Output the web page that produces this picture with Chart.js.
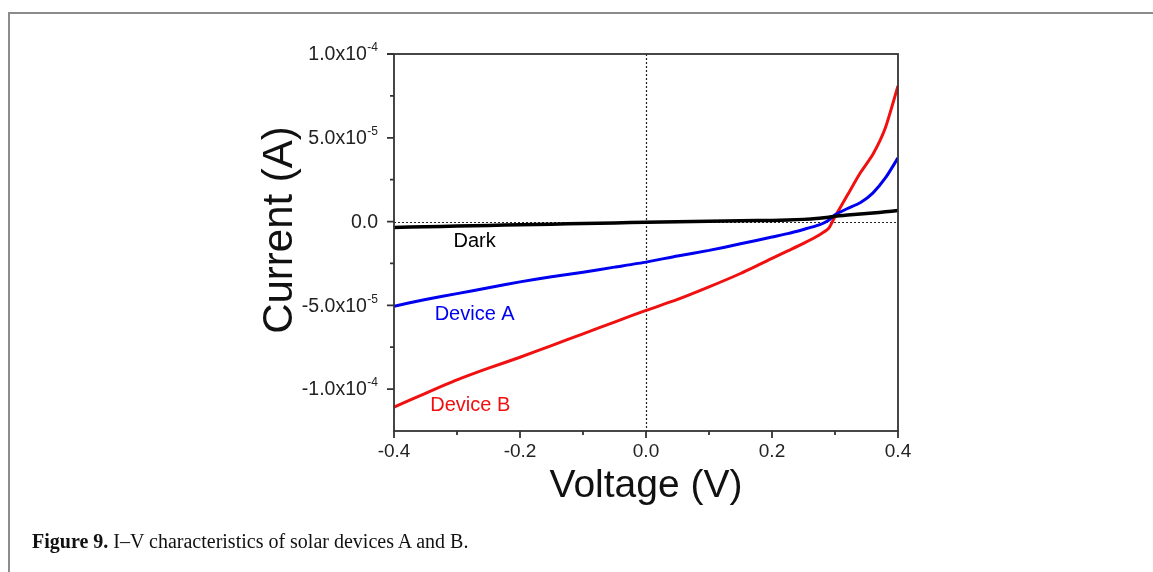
<!DOCTYPE html>
<html>
<head>
<meta charset="utf-8">
<script src="https://cdn.jsdelivr.net/npm/chart.js@4.4.0/dist/chart.umd.min.js"></script>
<style>
  html, body { margin: 0; padding: 0; background: #fff; }
  body { width: 1153px; height: 572px; position: relative; overflow: hidden; }
  #frame { position: absolute; left: 8px; top: 12px; right: -10px; bottom: -10px;
           border-left: 2px solid #8c8c8c; border-top: 2px solid #8c8c8c; }
  #wrap { position: absolute; left: 0; top: 0; width: 1153px; height: 572px; }
  #caption { position: absolute; left: 32px; top: 530px; font-family: "Liberation Serif", "Times New Roman", serif;
             font-size: 20px; color: #111; }
</style>
</head>
<body>
<div id="frame"></div>
<div id="wrap"><canvas id="chartIV"></canvas></div>
<div id="caption"><b>Figure 9.</b> I–V characteristics of solar devices A and B.</div>
<script>
// datos (V en voltios, I en amperios)
const voltage = [-0.4, -0.35, -0.3, -0.25, -0.2, -0.15, -0.1, -0.05, 0, 0.05, 0.1, 0.15, 0.2,
                 0.225, 0.25, 0.275, 0.29, 0.3, 0.32, 0.34, 0.36, 0.38, 0.4];
const darkCurrent = [-3.5e-6, -3.1e-6, -2.7e-6, -2.3e-6, -1.9e-6, -1.55e-6, -1.2e-6, -0.8e-6, -0.4e-6, -0.1e-6, 0.2e-6, 0.45e-6, 0.7e-6,
                     0.9e-6, 1.3e-6, 2.0e-6, 2.6e-6, 3.2e-6, 3.9e-6, 4.5e-6, 5.1e-6, 5.8e-6, 6.6e-6];
const deviceA = [-5.05e-5, -4.65e-5, -4.3e-5, -3.95e-5, -3.6e-5, -3.3e-5, -3.02e-5, -2.72e-5, -2.42e-5, -2.05e-5, -1.72e-5, -1.33e-5, -0.92e-5,
                 -0.72e-5, -0.47e-5, -0.2e-5, 0.08e-5, 0.4e-5, 0.78e-5, 1.12e-5, 1.7e-5, 2.6e-5, 3.8e-5];
const deviceB = [-11.08e-5, -10.25e-5, -9.45e-5, -8.75e-5, -8.1e-5, -7.4e-5, -6.7e-5, -6.0e-5, -5.3e-5, -4.65e-5, -3.9e-5, -3.1e-5, -2.2e-5,
                 -1.75e-5, -1.3e-5, -0.8e-5, -0.4e-5, 0.3e-5, 1.6e-5, 2.9e-5, 4.0e-5, 5.6e-5, 8.1e-5];

const seriesNames = ["Dark", "Device A", "Device B"];

const xTickValues = [-0.4, -0.3, -0.2, -0.1, 0, 0.1, 0.2, 0.3, 0.4];
const xTickLabels = ["-0.4", "", "-0.2", "", "0.0", "", "0.2", "", "0.4"];
const yTickValues = [-1.0e-4, -7.5e-5, -5.0e-5, -2.5e-5, 0, 2.5e-5, 5.0e-5, 7.5e-5, 1.0e-4];
const yTickMantissa = ["-1.0x10", "", "-5.0x10", "", "0.0", "", "5.0x10", "", "1.0x10"];
const yTickExponent = ["-4", "", "-5", "", "", "", "-5", "", "-4"];

// donde va cada etiqueta de serie (en coordenadas de datos)
const labelAnchors = [
    { x: -0.272, y: -1.2e-5 },
    { x: -0.272, y: -5.55e-5 },
    { x: -0.279, y: -10.95e-5 }
];

const FONT = '"Liberation Sans", Arial, sans-serif';
const AXIS_COLOR = "#333";

// ===========================
// CAJA, TICKS, ETIQUETAS
// ===========================
const ivDecor = {
    id: "ivDecor",
    beforeDatasetsDraw(chart) {
        const { ctx, chartArea: a, scales: { x, y } } = chart;
        ctx.save();
        ctx.strokeStyle = "#222";
        ctx.lineWidth = 1.2;
        ctx.setLineDash([2, 2]);
        const x0 = Math.round(x.getPixelForValue(0)) + 0.5;
        const y0 = Math.round(y.getPixelForValue(0)) + 0.5;
        ctx.beginPath();
        ctx.moveTo(x0, a.top); ctx.lineTo(x0, a.bottom);
        ctx.moveTo(a.left, y0); ctx.lineTo(a.right, y0);
        ctx.stroke();
        ctx.restore();
    },
    afterDatasetsDraw(chart) {
        const { ctx, chartArea: a, scales: { x, y } } = chart;
        ctx.save();
        ctx.strokeStyle = AXIS_COLOR;
        ctx.lineWidth = 1.8;
        ctx.strokeRect(a.left, a.top, a.right - a.left, a.bottom - a.top);

        // ticks hacia afuera
        ctx.beginPath();
        xTickValues.forEach((v, i) => {
            const px = x.getPixelForValue(v);
            const len = xTickLabels[i] ? 7 : 4;
            ctx.moveTo(px, a.bottom); ctx.lineTo(px, a.bottom + len);
        });
        yTickValues.forEach((v, i) => {
            const py = y.getPixelForValue(v);
            const len = (yTickMantissa[i]) ? 7 : 4;
            ctx.moveTo(a.left, py); ctx.lineTo(a.left - len, py);
        });
        ctx.stroke();

        // etiquetas del eje Y con exponente
        ctx.fillStyle = "#222";
        ctx.textBaseline = "middle";
        yTickValues.forEach((v, i) => {
            if (!yTickMantissa[i]) return;
            const py = y.getPixelForValue(v);
            const right = a.left - 16;
            ctx.font = "12px " + FONT;
            const supW = yTickExponent[i] ? ctx.measureText(yTickExponent[i]).width : 0;
            if (supW) {
                ctx.textAlign = "left";
                ctx.fillText(yTickExponent[i], right - supW, py - 6);
            }
            ctx.font = "19.5px " + FONT;
            ctx.textAlign = "right";
            ctx.fillText(yTickMantissa[i], right - supW - (supW ? 0.5 : 0), py + 1);
        });

        // titulo del eje Y
        ctx.save();
        ctx.translate(280, 230);
        ctx.rotate(-Math.PI / 2);
        ctx.font = "42px " + FONT;
        ctx.fillStyle = "#111";
        ctx.textAlign = "center";
        ctx.fillText("Current (A)", 0, 0);
        ctx.restore();

        // nombres de las series
        ctx.font = "20px " + FONT;
        ctx.textAlign = "center";
        chart.data.datasets.forEach((ds, i) => {
            ctx.fillStyle = ds.borderColor;
            ctx.fillText(seriesNames[i], x.getPixelForValue(labelAnchors[i].x), y.getPixelForValue(labelAnchors[i].y));
        });
        ctx.restore();
    }
};

function toPoints(values) {
    return voltage.map((v, i) => ({ x: v, y: values[i] }));
}

const ctx = document.getElementById("chartIV").getContext("2d");

new Chart(ctx, {
    type: "line",
    data: {
        datasets: [
            { label: seriesNames[0], data: toPoints(darkCurrent), borderColor: "#000000", borderWidth: 3.5 },
            { label: seriesNames[1], data: toPoints(deviceA), borderColor: "#0000f0", borderWidth: 3 },
            { label: seriesNames[2], data: toPoints(deviceB), borderColor: "#f01010", borderWidth: 3 }
        ]
    },
    options: {
        responsive: true,
        maintainAspectRatio: false,
        animation: false,
        elements: { point: { radius: 0 }, line: { tension: 0.2 } },
        layout: { padding: { left: 256, top: 54, right: 255, bottom: 62 } },
        plugins: {
            legend: { display: false },
            tooltip: { enabled: false }
        },
        scales: {
            x: {
                type: "linear",
                min: -0.4,
                max: 0.4,
                afterBuildTicks: (scale) => { scale.ticks = xTickValues.map(v => ({ value: v })); },
                afterFit: (scale) => { scale.height = 79; },
                grid: { display: false, drawTicks: false },
                border: { display: false },
                ticks: {
                    autoSkip: false,
                    maxRotation: 0,
                    padding: 9,
                    color: "#222",
                    font: { family: FONT, size: 19 },
                    callback: (v, i) => xTickLabels[i]
                },
                title: {
                    display: true,
                    text: "Voltage (V)",
                    color: "#111",
                    padding: 0,
                    font: { family: FONT, size: 39 }
                }
            },
            y: {
                type: "linear",
                min: -1.25e-4,
                max: 1.0e-4,
                afterBuildTicks: (scale) => { scale.ticks = yTickValues.map(v => ({ value: v })); },
                afterFit: (scale) => { scale.width = 138; },
                grid: { display: false, drawTicks: false },
                border: { display: false },
                ticks: { display: false },
                title: { display: false }
            }
        }
    },
    plugins: [ivDecor]
});
</script>
</body>
</html>
